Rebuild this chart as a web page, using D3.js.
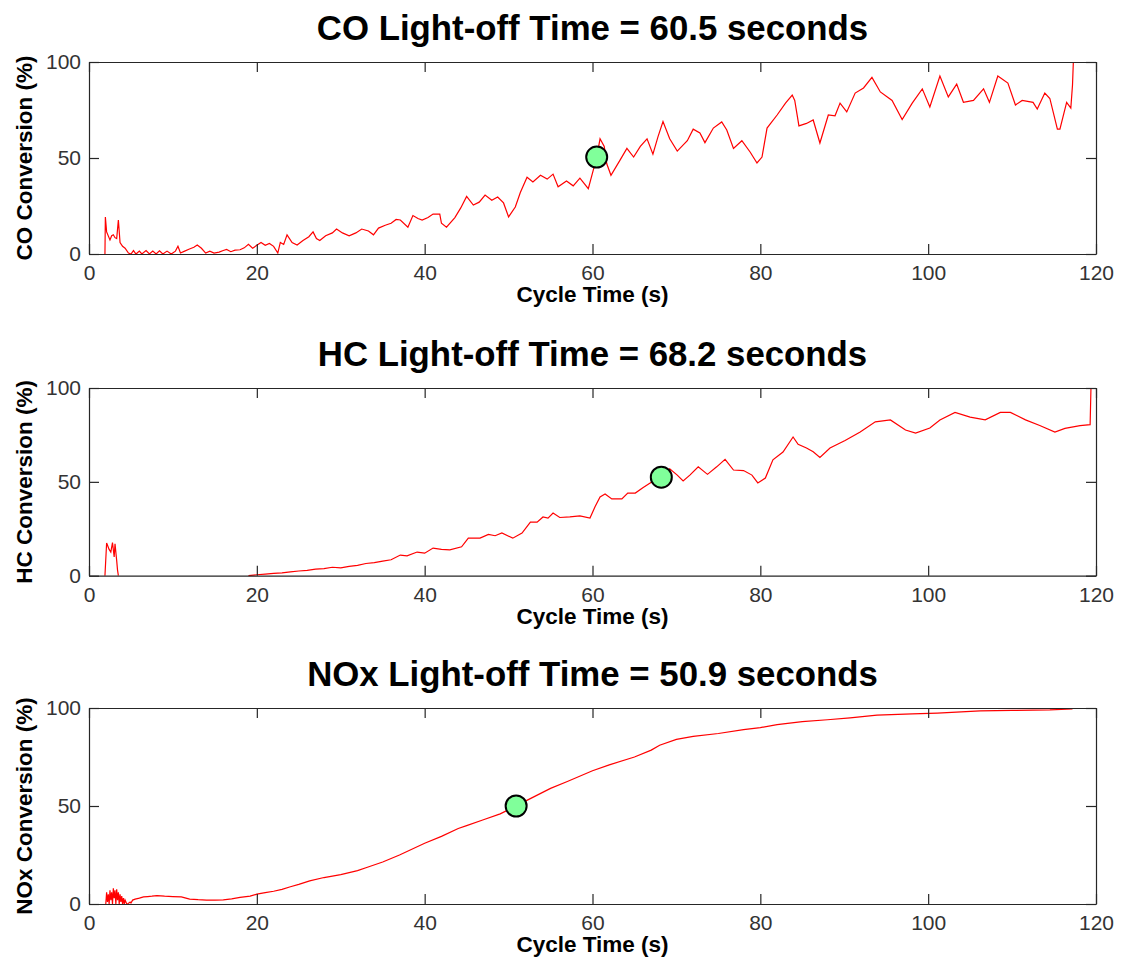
<!DOCTYPE html>
<html>
<head>
<meta charset="utf-8">
<script src="https://cdn.jsdelivr.net/npm/d3@7"></script>
<style>
  html, body { margin: 0; padding: 0; background: #fff; }
  svg { display: block; }
  text { font-family: "Liberation Sans", Arial, Helvetica, sans-serif; }
</style>
</head>
<body>
<svg id="chart" width="1121" height="962"></svg>
<script>
// ---------------- DATA ----------------
const xTicks = [0, 20, 40, 60, 80, 100, 120];
const yTicks = [0, 50, 100];

const titles = [
  "CO Light-off Time = 60.5 seconds",
  "HC Light-off Time = 68.2 seconds",
  "NOx Light-off Time = 50.9 seconds"
];
const yLabels = ["CO Conversion (%)", "HC Conversion (%)", "NOx Conversion (%)"];
const xLabel = "Cycle Time (s)";

const lightOffTime = [60.5, 68.2, 50.9];
const lightOffValue = [50.5, 52.5, 50];

// CO conversion: [time (s), conversion (%)]
const coData = [
  [1.9,0],[1.95,19.3],[2.1,11.5],[2.5,7.3],[2.7,9.5],[2.9,10],[3.1,8.5],[3.3,8],[3.5,17.7],[3.7,6],
  [4.0,4],[4.3,3],[4.7,0.5],[5.0,0],[5.3,1.8],[5.6,0],[6.0,1.5],[6.3,0],[6.8,1.8],[7.2,0],
  [7.6,1.5],[8.0,0],[8.4,1.6],[8.8,0],[9.3,1.5],[9.8,0],[10.3,1.5],[10.6,4],[10.9,0.5],[11.4,1.5],
  [11.9,2.5],[12.5,3.5],[12.9,4.7],[13.4,3],[13.9,0.5],[14.4,1.5],[14.9,0.5],[15.5,1],[16.0,1.8],[16.4,2.4],
  [16.9,1.2],[17.4,2],[18.0,2.2],[18.5,3.2],[19.0,5],[19.5,3],[20.0,4.5],[20.5,6],[21.0,4.5],[21.5,5.5],
  [22.0,4],[22.5,0.5],[22.8,6],[23.2,5],[23.6,10],[24.2,6],[24.8,4.7],[25.5,7],[26.2,9],[26.7,11.5],
  [27.1,8],[27.5,7],[28.2,9.5],[29.0,11],[29.5,13],[30.2,11],[31.0,9.5],[31.8,11],[32.5,13],[33.3,12],
  [33.9,10],[34.5,13.5],[35.3,15],[36.0,16],[36.6,18],[37.1,17.7],[38.0,14],[38.6,20],[39.2,18.5],[39.7,17.7],
  [40.4,19],[41.0,20.8],[41.8,20.8],[42.0,16],[42.6,14],[43.6,19],[44.3,24],[45.0,30],[45.8,25.5],[46.5,27],
  [47.2,30.7],[48.0,28],[48.7,29.7],[49.4,26.6],[50.0,19.3],[50.8,24.5],[51.4,32],[52.2,40],[52.9,37.5],[53.8,41],
  [54.6,39],[55.3,41.6],[55.9,35],[56.9,38],[57.7,35.5],[58.5,39.5],[59.5,34],[60.1,43.8],[60.5,50.5],[60.9,60],
  [61.4,56],[61.7,47],[62.2,41],[63.3,49],[64.1,55],[64.9,50.5],[65.7,56],[66.5,60],[67.2,52],[67.8,61],
  [68.4,69],[69.2,60],[70.1,53.6],[71.3,59],[72.0,65],[72.8,63],[73.4,58],[74.4,65.6],[75.4,68.8],[76.0,64.6],
  [76.8,55],[77.8,59],[78.8,53],[79.6,47.4],[80.2,50.5],[80.8,65.6],[82.0,72.4],[83.0,78.6],[83.8,82.8],[84.1,80],
  [84.6,66.7],[85.5,68],[86.3,69.8],[87.1,57.8],[88.1,72.4],[88.9,72],[89.5,78.6],[90.3,74],[91.3,83.8],[92.3,86.5],
  [93.3,92],[94.3,84.4],[95.7,80],[96.9,70],[98.1,78.6],[99.3,86],[100.2,76.6],[101.4,92.7],[102.4,81.8],[103.4,88.5],
  [104.2,79],[105.4,80],[106.6,86],[107.3,79],[108.3,92.7],[109.5,89],[110.4,77.6],[111.2,80],[112.5,79],[113.0,75.5],
  [113.9,83.8],[114.5,81],[115.4,65],[115.7,65],[116.5,79],[117.0,76],[117.2,88],[117.3,100]
];

// HC conversion (null = no data)
const hcData = [
  [1.9,0],[2.1,17.4],[2.4,14],[2.6,12.6],[2.8,17.6],[3.0,10],[3.1,17],[3.3,8],[3.4,3],[3.5,0],
  [10,null],
  [19.0,0],[20.0,0.5],[21.0,0.8],[22.0,1.2],[23.0,1.5],[24.0,2],[25.0,2.5],[26.0,2.8],[27.0,3.5],[28.0,3.8],
  [29.0,4.5],[30.0,4.2],[31.0,5],[32.0,5.5],[33.0,6.5],[34.0,7],[35.0,7.8],[36.0,8.5],[37.1,11],[37.9,10.6],
  [39.1,12.6],[40.0,12],[41.0,14.7],[42.0,14],[43.0,13.8],[44.4,15.4],[45.2,20],[46.6,20],[47.6,22],[48.4,21.3],
  [49.2,22.8],[50.5,20],[51.6,22.7],[52.6,28.5],[53.4,28.5],[54.1,31.3],[54.7,30.7],[55.3,33.4],[56.1,31],[57.3,31.3],
  [58.5,31.9],[59.7,30.7],[60.3,36.7],[60.9,42],[61.5,43.5],[62.3,40.9],[63.5,40.9],[64.2,44],[65.1,44],[66.0,46.8],
  [67.1,50],[68.2,52.6],[69.2,56.9],[70.1,53.6],[70.8,50.5],[71.6,53.6],[72.6,58],[73.7,54],[74.8,58],[75.8,62],
  [76.8,56.3],[78.0,56],[79.0,53.6],[79.7,49.4],[80.6,52],[81.5,61.7],[82.7,65.9],[83.9,73.9],[84.5,70],[85.5,68],
  [86.3,66],[87.1,63],[88.3,68],[90.1,72],[91.9,76.5],[93.7,82],[95.5,83],[97.3,77.6],[98.5,76],[100.2,78.7],
  [101.4,83],[103.2,87],[105.0,84.5],[106.8,83],[108.6,87],[109.8,87],[111.6,83],[113.3,80],[115.1,76.5],[116.3,78.5],
  [118.1,80],[119.3,80.5],[119.4,100]
];

// NOx conversion
const noxData = [
  [2.0,0],[2.1,6],[2.2,1],[2.3,5],[2.4,0],[2.5,7],[2.6,2],[2.7,6],[2.8,0],[2.9,8],
  [3.0,3],[3.1,7],[3.2,0],[3.3,7.5],[3.4,2],[3.5,6],[3.6,0],[3.7,5],[3.8,1],[3.9,4],
  [4.0,0],[4.1,3],[4.2,0],[4.3,2],[4.5,0],[4.6,0],[4.9,1],[5.0,0.5],[5.2,2],[5.5,2.5],
  [6.0,3],[6.5,3.6],[7.0,3.8],[7.5,4],[8.1,4.3],[9.0,4],[10.0,3.8],[11.0,3.6],[12.0,2.5],[13.0,2.2],
  [14.0,2],[15.0,2],[16.0,2.1],[17.0,2.6],[18.0,3.4],[19.2,4],[20.0,5],[21.0,5.8],[22.0,6.5],[23.0,7.5],
  [24.0,8.8],[25.0,10],[26.3,11.8],[28.0,13.5],[30.0,15],[32.0,17],[33.0,18.5],[35.0,21.4],[37.0,25],[40.0,31],
  [42.0,34.5],[44.0,38.5],[45.0,40],[47.0,43],[49.0,46],[50.9,50],[52.0,52.5],[55.0,59],[57.0,62.5],[60.0,68],
  [62.0,71],[65.0,75],[67.0,78.5],[68.0,81],[70.0,84],[72.0,85.5],[75.0,87],[78.0,89],[80.0,90],[82.0,91.5],
  [85.0,93],[88.0,94],[90.7,95],[93.9,96.4],[98.1,97],[101.1,97.4],[106.2,98.5],[110.0,98.8],[114.5,99],[117.2,99.5]
];

const series = [coData, hcData, noxData];

// ---------------- LAYOUT ----------------
const svg = d3.select("#chart");
const left = 89, right = 1096;
const panels = [
  { top: 62, bottom: 254 },
  { top: 388, bottom: 575.7 },
  { top: 708, bottom: 904 }
];
const axisColor = "#262626";
const tickTextColor = "#333";
const tickFont = 21;

panels.forEach((p, i) => {
  const g = svg.append("g");
  const x = d3.scaleLinear().domain([0, 120]).range([left, right]);
  const y = d3.scaleLinear().domain([0, 100]).range([p.bottom, p.top]);

  const line = d3.line()
    .defined(d => d[1] !== null)
    .x(d => x(d[0]))
    .y(d => y(d[1]));

  g.append("path")
    .datum(series[i])
    .attr("d", line)
    .attr("fill", "none")
    .attr("stroke", "#ff0000")
    .attr("stroke-width", 1.2)
    .attr("stroke-linejoin", "miter");

  const bottomAxis = d3.axisBottom(x).tickValues(xTicks).tickSizeInner(-10).tickSizeOuter(0).tickPadding(11);
  const topAxis = d3.axisTop(x).tickValues(xTicks).tickSizeInner(-10).tickSizeOuter(0).tickFormat("");
  const leftAxis = d3.axisLeft(y).tickValues(yTicks).tickSizeInner(-10).tickSizeOuter(0).tickPadding(8);
  const rightAxis = d3.axisRight(y).tickValues(yTicks).tickSizeInner(-10).tickSizeOuter(0).tickFormat("");

  const styleAxis = sel => {
    sel.selectAll("path, line").attr("stroke", axisColor).attr("stroke-width", 1.2);
    sel.selectAll("text").attr("fill", tickTextColor).attr("font-size", tickFont)
      .style("font-family", '"Liberation Sans", Arial, sans-serif');
  };

  g.append("g").attr("transform", `translate(0,${p.bottom})`).call(bottomAxis).call(styleAxis);
  g.append("g").attr("transform", `translate(0,${p.top})`).call(topAxis).call(styleAxis);
  g.append("g").attr("transform", `translate(${left},0)`).call(leftAxis).call(styleAxis);
  g.append("g").attr("transform", `translate(${right},0)`).call(rightAxis).call(styleAxis);

  g.append("circle")
    .attr("cx", x(lightOffTime[i]))
    .attr("cy", y(lightOffValue[i]))
    .attr("r", 10.5)
    .attr("fill", "#80ff9a")
    .attr("stroke", "#000")
    .attr("stroke-width", 2);

  g.append("text")
    .attr("x", (left + right) / 2)
    .attr("y", p.top - 22)
    .attr("text-anchor", "middle")
    .attr("font-size", 34.8)
    .attr("font-weight", "bold")
    .attr("fill", "#000")
    .text(titles[i]);

  g.append("text")
    .attr("x", (left + right) / 2)
    .attr("y", p.bottom + 48)
    .attr("text-anchor", "middle")
    .attr("font-size", 22.5)
    .attr("font-weight", "bold")
    .attr("fill", "#000")
    .text(xLabel);

  g.append("text")
    .attr("transform", `translate(32,${(p.top + p.bottom) / 2}) rotate(-90)`)
    .attr("text-anchor", "middle")
    .attr("font-size", 22.5)
    .attr("font-weight", "bold")
    .attr("fill", "#000")
    .text(yLabels[i]);
});
</script>
</body>
</html>
